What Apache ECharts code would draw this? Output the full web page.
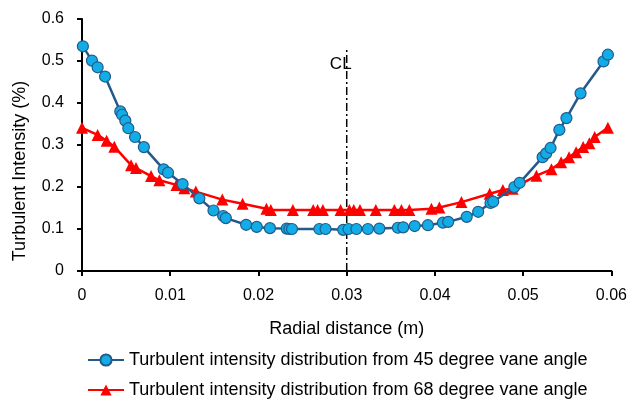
<!DOCTYPE html>
<html><head><meta charset="utf-8">
<script src="https://cdn.jsdelivr.net/npm/echarts@6/dist/echarts.min.js"></script>
<style>html,body{margin:0;padding:0;background:#fff}#c{width:630px;height:400px}</style>
</head><body><div id="c"></div>
<script>
const blueX = [0.0001,0.00113,0.00177,0.00261,0.00434,0.00454,0.00491,0.00525,0.00601,0.00701,0.00925,0.00975,0.0114,0.0133,0.0149,0.0160,0.0163,0.0186,0.0198,0.0213,0.0232,0.0235,0.0238,0.0269,0.0276,0.0296,0.0302,0.0311,0.0324,0.0337,0.0358,0.0364,0.0377,0.0392,0.0409,0.0415,0.0436,0.0449,0.0463,0.0466,0.0490,0.0496,0.0522,0.0526,0.0531,0.0541,0.0549,0.0565,0.0591,0.0596];
const blueY = [0.535,0.501,0.485,0.463,0.380,0.372,0.358,0.340,0.319,0.295,0.242,0.234,0.207,0.173,0.144,0.131,0.126,0.110,0.105,0.102,0.101,0.100,0.100,0.100,0.100,0.098,0.100,0.100,0.100,0.101,0.103,0.104,0.107,0.109,0.115,0.117,0.129,0.141,0.162,0.165,0.200,0.210,0.271,0.280,0.293,0.336,0.364,0.423,0.499,0.515];
const redX = [0,0.00177,0.00279,0.00366,0.00556,0.00612,0.00783,0.00877,0.0107,0.0116,0.0129,0.0159,0.0182,0.0209,0.0214,0.0239,0.0262,0.0267,0.0273,0.0293,0.0303,0.0308,0.0315,0.0333,0.0354,0.0362,0.0371,0.0396,0.0405,0.0430,0.0462,0.0477,0.0488,0.0515,0.0532,0.0543,0.0552,0.0560,0.0568,0.0575,0.0581,0.0596];
const redY = [0.341,0.324,0.310,0.296,0.252,0.245,0.226,0.216,0.205,0.197,0.189,0.170,0.160,0.148,0.145,0.145,0.145,0.145,0.145,0.145,0.145,0.145,0.145,0.145,0.145,0.145,0.145,0.148,0.151,0.164,0.184,0.193,0.196,0.227,0.242,0.259,0.271,0.283,0.295,0.304,0.319,0.341];
const clX = 0.03, clTop = 0.531, clLabelY = 0.492;
const seriesNames = ['Turbulent intensity distribution from 45 degree vane angle','Turbulent intensity distribution from 68 degree vane angle'];
const xTitle = 'Radial distance (m)', yTitle = 'Turbulent Intensity (%)', clLabel = 'CL';

const font = 'Liberation Sans';
const legendBase = {
  orient: 'horizontal', left: 87, padding: 0, itemWidth: 36, itemHeight: 14,
  textStyle: {fontFamily: font, fontSize: 18, color: '#000'}
};
const chart = echarts.init(document.getElementById('c'));
chart.setOption({
  animation: false,
  textStyle: {fontFamily: font},
  grid: {left: 82, right: 18, top: 19, bottom: 129},
  graphic: [{
    type: 'text', x: 20, y: 171, rotation: Math.PI / 2,
    style: {text: yTitle, font: '18px "Liberation Sans"', fill: '#000', align: 'center', verticalAlign: 'middle'}
  }],
  xAxis: {
    type: 'value', min: 0, max: 0.06, interval: 0.01,
    name: xTitle, nameLocation: 'middle', nameGap: 49,
    nameTextStyle: {fontFamily: font, fontSize: 18, color: '#000'},
    axisLine: {lineStyle: {color: '#000', width: 2}},
    axisTick: {show: true, length: 5, lineStyle: {color: '#000', width: 2}},
    axisLabel: {fontSize: 16, color: '#000', margin: 17, formatter: v => String(+v.toFixed(2))},
    splitLine: {show: false}
  },
  yAxis: {
    type: 'value', min: 0, max: 0.6, interval: 0.1,
    axisLine: {show: true, lineStyle: {color: '#000', width: 2}},
    axisTick: {show: true, length: 5, lineStyle: {color: '#000', width: 2}},
    axisLabel: {fontSize: 16, color: '#000', margin: 18, formatter: v => String(+v.toFixed(1))},
    splitLine: {show: false}
  },
  legend: [
    Object.assign({}, legendBase, {top: 351, data: [seriesNames[0]]}),
    Object.assign({}, legendBase, {top: 381, data: [seriesNames[1]]})
  ],
  series: [
    {
      name: seriesNames[1], type: 'line', data: redX.map((x, i) => [x, redY[i]]),
      symbol: 'triangle', symbolSize: 12,
      lineStyle: {color: '#FF0000', width: 2.5},
      itemStyle: {color: '#FF0000'}, z: 2
    },
    {
      name: seriesNames[0], type: 'line', data: blueX.map((x, i) => [x, blueY[i]]),
      symbol: 'circle', symbolSize: 11,
      lineStyle: {color: '#245A8A', width: 2.5},
      itemStyle: {color: '#12ADE6', borderColor: '#245A8A', borderWidth: 1.2}, z: 3
    },
    {
      name: 'CL', type: 'line', data: [[clX, 0], [clX, clTop]], symbol: 'none', silent: true,
      lineStyle: {color: '#000', width: 1.5, type: [8, 3, 2, 3]}, z: 1,
      markPoint: {
        symbol: 'rect', symbolSize: 0,
        data: [{coord: [clX, clLabelY], label: {show: true, formatter: clLabel, fontFamily: font, fontSize: 17, color: '#000', offset: [-6, 0]}}]
      }
    }
  ]
});
</script></body></html>
